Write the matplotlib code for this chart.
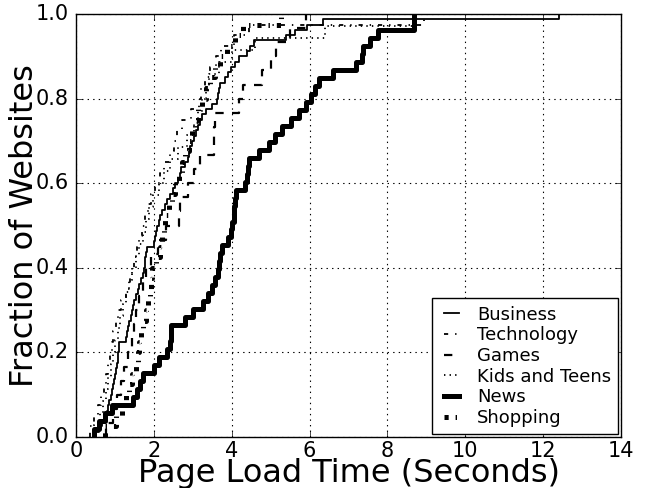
import numpy as np
import matplotlib
matplotlib.use('Agg')
import matplotlib.pyplot as plt

plt.style.use('classic')
plt.rcParams['font.family'] = ['DejaVu Sans']
plt.rcParams['lines.scale_dashes'] = False

# Page load times (seconds) per website
business = [0.50, 0.60, 0.67, 0.74, 0.79, 0.83, 0.86, 0.89, 0.92, 0.95,
            0.97, 1.00, 1.02, 1.045, 1.07, 1.08, 1.10, 1.115, 1.29, 1.31,
            1.33, 1.37, 1.41, 1.44, 1.47, 1.50, 1.54, 1.58, 1.62, 1.67,
            1.71, 1.74, 1.76, 1.78, 1.80, 1.82, 2.00, 2.04, 2.06, 2.09,
            2.13, 2.17, 2.21, 2.28, 2.35, 2.42, 2.49, 2.55, 2.63, 2.67,
            2.71, 2.81, 2.87, 2.91, 2.94, 2.98, 3.03, 3.09, 3.14, 3.19,
            3.24, 3.35, 3.50, 3.62, 3.65, 3.67, 3.70, 3.84, 3.91, 3.97,
            4.08, 4.19, 4.39, 4.46, 4.57, 5.40, 5.62, 5.93, 6.35, 12.42]
technology = [0.35, 0.46, 0.56, 0.65, 0.71, 0.76, 0.82, 0.87, 0.92, 0.96,
              1.02, 1.08, 1.16, 1.28, 1.39, 1.44, 1.50, 1.56, 1.62, 1.70,
              1.78, 1.84, 1.92, 2.03, 2.15, 2.27, 2.41, 2.52, 2.60, 2.73,
              2.95, 3.15, 3.22, 3.32, 3.45, 3.59, 3.73, 4.05, 4.45, 8.94]
games = [0.77, 0.95, 1.05, 1.15, 1.23, 1.33, 1.43, 1.50, 1.55, 1.63,
         1.72, 1.80, 1.93, 2.10, 2.30, 2.65, 2.68, 2.88, 3.04, 3.19,
         3.54, 3.55, 3.56, 4.18, 4.30, 4.78, 5.00, 5.13, 5.50, 5.90]
kids_and_teens = [0.47, 0.62, 0.69, 0.76, 0.83, 0.89, 0.95, 1.01, 1.07, 1.14,
                  1.21, 1.28, 1.36, 1.45, 1.54, 1.62, 1.71, 1.79, 1.88, 1.99,
                  2.12, 2.25, 2.41, 2.61, 2.84, 3.04, 3.13, 3.23, 3.33, 3.42,
                  3.67, 4.00, 4.60, 6.40, 8.70]
news = [0.45, 0.60, 0.75, 0.93, 1.46, 1.56, 1.64, 1.72, 2.00, 2.13,
        2.35, 2.41, 2.43, 2.45, 2.79, 3.00, 3.27, 3.40, 3.49, 3.58,
        3.64, 3.68, 3.71, 3.75, 3.91, 3.97, 4.01, 4.05, 4.07, 4.08,
        4.10, 4.35, 4.38, 4.41, 4.45, 4.70, 4.96, 5.10, 5.30, 5.53,
        5.74, 5.92, 6.04, 6.15, 6.25, 6.60, 7.20, 7.35, 7.38, 7.55,
        7.75, 8.69, 8.69]
shopping = [0.75, 1.02, 1.17, 1.28, 1.37, 1.45, 1.54, 1.59, 1.63, 1.67,
            1.72, 1.79, 1.86, 1.89, 1.92, 1.95, 2.05, 2.16, 2.22, 2.25,
            2.28, 2.38, 2.47, 2.54, 2.64, 2.73, 2.81, 2.90, 2.98, 3.05,
            3.14, 3.24, 3.33, 3.45, 3.57, 3.70, 3.87, 4.08, 4.30, 5.26]

categories = ['Business', 'Technology', 'Games', 'Kids and Teens', 'News', 'Shopping']
series = [business, technology, games, kids_and_teens, news, shopping]

x_ticks = [0, 2, 4, 6, 8, 10, 12, 14]
y_ticks = [0.0, 0.2, 0.4, 0.6, 0.8, 1.0]

styles = [
    dict(linestyle='-', linewidth=1.3),
    dict(linestyle=(0, (3, 5, 1, 5)), linewidth=1.3),
    dict(linestyle=(0, (6, 6)), linewidth=1.6),
    dict(linestyle=(0, (1, 3)), linewidth=1.3),
    dict(linestyle='-', linewidth=3.6),
    dict(linestyle=(0, (3, 5, 1, 5)), linewidth=3.6),
]

fig = plt.figure(figsize=(6.46, 4.88), dpi=100, facecolor='white')
ax = fig.add_axes([76 / 646, 1 - 437 / 488, (621 - 76) / 646, (437 - 14) / 488])
ax.set_facecolor('white')

for name, data, st in zip(categories, series, styles):
    x = np.sort(np.asarray(data, dtype=float))
    n = len(x)
    y = np.arange(1, n + 1) / n
    ax.step(np.r_[x[0], x], np.r_[0.0, y], where='post', color='black',
            label=name, dash_capstyle='butt', **st)

ax.set_xlim(0, 14)
ax.set_ylim(0, 1.0)
ax.set_xticks(x_ticks)
ax.set_yticks(y_ticks)
ax.set_xticklabels([str(t) for t in x_ticks])
ax.set_yticklabels(['%.1f' % t for t in y_ticks])
ax.tick_params(labelsize=15, direction='in', top=True, right=True, length=4)
ax.tick_params(axis='x', pad=3)
ax.tick_params(axis='y', pad=5)
ax.grid(True, color='black', linestyle=':', linewidth=0.8)
ax.set_xlabel('Page Load Time (Seconds)', fontsize=23, labelpad=-2)
ax.set_ylabel('Fraction of Websites', fontsize=23, labelpad=-3)

leg = ax.legend(loc='lower right', fontsize=13, handlelength=1.4,
                handletextpad=0.7, labelspacing=0.15, borderpad=0.4,
                borderaxespad=0.15, fancybox=False, frameon=True)
leg.get_frame().set_edgecolor('black')
leg.get_frame().set_linewidth(1.0)

fig.savefig('out.png', dpi=100, facecolor='white')
